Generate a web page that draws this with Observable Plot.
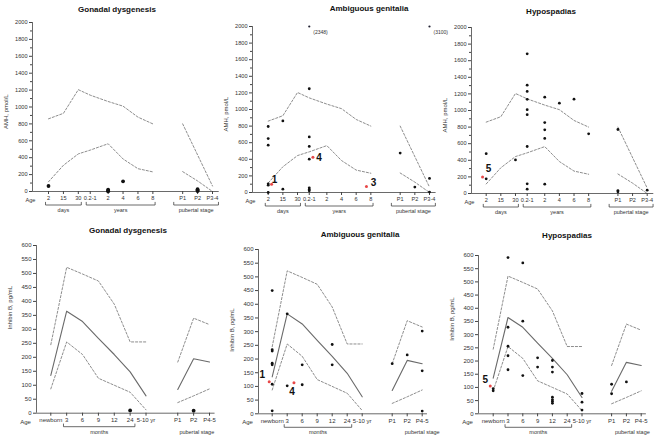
<!DOCTYPE html>
<html><head><meta charset="utf-8">
<script src="https://cdn.jsdelivr.net/npm/d3@7"></script>
<script src="https://cdn.jsdelivr.net/npm/@observablehq/plot@0.6"></script>
<style>
body{margin:0;background:#fff;}
#wrap{position:relative;width:661px;height:437px;overflow:hidden;background:#fff;font-family:"Liberation Sans",Arial,sans-serif;}
.panel{position:absolute;}
.panel svg{max-width:none;overflow:visible;}
.ttl{position:absolute;font-weight:bold;font-size:8px;color:#111;transform:translate(-50%,-50%);white-space:nowrap;}
</style></head><body><div id="wrap"></div>
<script>
// ---------- categories ----------
const amhKeys   = ["2d","15d","30d","0.2-1","2y","4y","6y","8y","P1","P2","P3-4"];
const amhLabels = ["2","15","30","0.2-1","2","4","6","8","P1","P2","P3-4"];
const amhPos    = [0,1,2,2.8,4,5,6,7,9,10,11];
const inhKeys   = ["nb","3","6","9","12","24","5-10","P1","P2","P4-5"];
const inhLabels = ["newborn","3","6","9","12","24","5-10 yr","P1","P2","P4-5"];
const inhPos    = [0,1,2,3,4,5,6,8,9,10];

// ---------- reference ranges ----------
const amhRefKeys = ["2d","15d","30d","0.2-1","2y","4y","6y","8y"];
const amhUpper   = [860,925,1205,1140,1065,1010,880,800];
const amhLower   = [115,310,445,490,565,385,270,232];
const amhPubUpperKeys = ["P1","P3-4"];
const amhPubUpper     = [800,65];
const amhPubLowerKeys = ["P1","P2","P3-4"];
const amhPubLower     = [235,125,0];

const inhRefKeys  = ["nb","3","6","9","12","24","5-10"];
const inhUpper    = [245,522,498,473,390,255,255];
const inhMedian   = [135,365,328,268,210,148,62];
const inhLower    = [87,255,210,125,100,75,12];
const inhPubKeys  = ["P1","P2","P4-5"];
const inhPubUpper = [183,340,317];
const inhPubMedian= [85,195,183];
const inhPubLower = [38,62,87];

// ---------- patients ----------
const gdAmh = [["2d",65],["2y",22],["2y",10],["2y",2],["4y",120],["P2",28],["P2",15],["P2",5]];
const agAmh = [["2d",795],["2d",650],["2d",570],["2d",104],["2d",88],["2d",0],["15d",862],["15d",40],
  ["0.2-1",2348],["0.2-1",1250],["0.2-1",670],["0.2-1",555],["0.2-1",402],["0.2-1",56],["0.2-1",36],["0.2-1",20],
  ["P1",475],["P2",65],["P3-4",3100],["P3-4",170],["P3-4",5]];
const hypAmh = [["2d",480],["2d",177],["30d",405],["0.2-1",1683],["0.2-1",1305],["0.2-1",1230],["0.2-1",1135],
  ["0.2-1",1010],["0.2-1",950],["0.2-1",566],["0.2-1",116],["0.2-1",52],["2y",1160],["2y",855],["2y",767],
  ["2y",663],["2y",112],["4y",1088],["6y",1137],["8y",719],["P1",771],["P1",35],["P1",20],["P3-4",40]];
const gdInh = [["24",10],["P2",9]];
const agInh = [["nb",450],["nb",234],["nb",229],["nb",185],["nb",179],["nb",108],["nb",11],["3",365],["3",102],
  ["6",179],["6",106],["12",253],["12",179],["P1",183],["P2",215],["P4-5",302],["P4-5",157],["P4-5",10]];
const hypInh = [["nb",95],["nb",87],["3",592],["3",328],["3",256],["3",220],["3",167],["6",572],["6",351],["6",145],
  ["9",212],["9",177],["12",202],["12",177],["12",158],["12",63],["12",54],["12",48],["12",40],
  ["5-10",77],["5-10",44],["5-10",14],["P1",112],["P1",76],["P2",121]];

// index cases (red), x = position on the age axis
const agAmhIdx  = [["1",0.23,98],["4",3.05,425],["3",6.7,72]];
const hypAmhIdx = [["5",-0.25,200]];
const agInhIdx  = [["1",-0.2,117],["4",1.45,113]];
const hypInhIdx = [["5",-0.2,105]];

// ---------- layout (positions / styles) ----------
const amhGroups = [["days","2d","30d",-0.2,0.2],["years","0.2-1","8y",-0.27,0.15],["pubertal stage","P1","P3-4",-0.6,0.4]];
const inhGroups = [["months","3","24",-0.2,0.3]];
const labelOff = {"1":[3,-5],"4":[6,1],"3":[7,-4],"5":[6,-8]};
const labelOffInh = {"1":[-7,-7],"4":[-2,9],"5":[-5,-6]};

const panels = [
  {title:"Gonadal dysgenesis", tx:117, ty:9, axisX:32, y0:191, yTop:22, xFirst:48, xLast:212, kind:"amh", pts:gdAmh, idx:[], r:1.9},
  {title:"Ambiguous genitalia", tx:369, ty:8, axisX:252, y0:191.7, yTop:25.7, xFirst:267.7, xLast:429, kind:"amh", pts:agAmh, idx:agAmhIdx, r:1.4},
  {title:"Hypospadias", tx:551, ty:11, axisX:471, y0:192.7, yTop:26.7, xFirst:485.7, xLast:646.7, kind:"amh", pts:hypAmh, idx:hypAmhIdx, r:1.4},
  {title:"Gonadal dysgenesis", tx:128, ty:230, axisX:36, y0:412.7, yTop:245, xFirst:50.3, xLast:209, kind:"inh", pts:gdInh, idx:[], r:1.9, pubX:9.2, ylabDy:0},
  {title:"Ambiguous genitalia", tx:360, ty:234, axisX:258, y0:413.3, yTop:249, xFirst:271.7, xLast:421.7, kind:"inh", pts:agInh, idx:agInhIdx, r:1.4, pubX:10.0, ylabDy:20},
  {title:"Hypospadias", tx:567, ty:235, axisX:478, y0:413.3, yTop:255, xFirst:492.7, xLast:640.7, kind:"inh", pts:hypInh, idx:hypInhIdx, r:1.4, pubX:9.4, ylabDy:6}
];

const wrap = document.getElementById("wrap");
const dashed = {stroke:"#808080", strokeWidth:0.9, strokeDasharray:"2.2,1.8"};
const solid = {stroke:"#6a6a6a", strokeWidth:1.1};

function build(p) {
  const amh = p.kind === "amh";
  const keys = amh ? amhKeys : inhKeys, labels = amh ? amhLabels : inhLabels, posArr = amh ? amhPos : inhPos;
  const X = k => posArr[keys.indexOf(k)];
  const nLast = posArr[posArr.length - 1];
  const k = (p.xLast - p.xFirst) / nLast;
  const d0 = -(p.xFirst - p.axisX) / k;
  const d1 = nLast + (amh ? 0.45 : 0.35);
  const yMax = amh ? 2000 : 600;
  const mL = 32, mT = 8;
  const width = Math.ceil(mL + (d1 - d0) * k + 18);
  const mR = width - mL - (d1 - d0) * k;
  const plotH = p.y0 - p.yTop;
  const height = Math.ceil(mT + plotH + 26);
  const mB = height - mT - plotH;
  const ppu = plotH / yMax;
  const yv = px => -px / ppu; // pixel offset below baseline -> data units
  const fs = amh ? 5.6 : 6;

  const marks = [];
  const ln = (ks, vs, st) => Plot.line(ks.map((kk, i) => ({x: X(kk), y: vs[i]})), {x: "x", y: "y", ...st});
  if (amh) {
    marks.push(ln(amhRefKeys, amhUpper, dashed), ln(amhRefKeys, amhLower, dashed),
               ln(amhPubUpperKeys, amhPubUpper, dashed), ln(amhPubLowerKeys, amhPubLower, dashed));
  } else {
    marks.push(ln(inhRefKeys, inhUpper, dashed), ln(inhRefKeys, inhMedian, solid), ln(inhRefKeys, inhLower, dashed),
               ln(inhPubKeys, inhPubUpper, dashed), ln(inhPubKeys, inhPubMedian, solid), ln(inhPubKeys, inhPubLower, dashed));
  }
  marks.push(Plot.ruleY([0], {stroke: "#444", strokeWidth: 0.8}));
  marks.push(Plot.ruleX([d0], {y1: 0, y2: yMax, stroke: "#444", strokeWidth: 0.8}));
  marks.push(Plot.axisY({ticks: d3.range(0, yMax + 1, amh ? 200 : 50), tickFormat: d => String(d), tickSize: 3, tickPadding: 2, label: null, fontSize: fs, stroke: "#444", fill: "#333"}));
  if (amh) marks.push(Plot.axisY({ticks: d3.range(100, yMax, 200), tickSize: 2, tickFormat: () => "", label: null, stroke: "#444"}));
  marks.push(Plot.axisX({ticks: posArr, tickFormat: v => labels[posArr.indexOf(v)], tickSize: 3, tickPadding: 2, label: null, fontSize: fs, stroke: "#444", fill: "#333"}));
  marks.push(Plot.text(["Age"], {x: d0, y: 0, dx: amh ? -2 : -11, dy: 8.5, fontSize: fs, fill: "#333"}));
  marks.push(Plot.text([amh ? "AMH, pmol/L" : "Inhibin B, pg/mL"], {frameAnchor: "left", rotate: -90, dx: -26, dy: amh ? 22 : p.ylabDy, fontSize: 6, fill: "#333"}));
  const groups = amh ? amhGroups : inhGroups;
  for (const [lab, a, b, pa, pb] of groups) {
    const xa = X(a) + pa, xb = X(b) + pb;
    marks.push(Plot.line([[xa, yv(10.8)], [xa, yv(13.5)], [xb, yv(13.5)], [xb, yv(10.8)]], {stroke: "#444", strokeWidth: 0.8}));
    marks.push(Plot.text([lab], {x: (xa + xb) / 2, y: yv(18.6), fontSize: 5.5, fill: "#333"}));
  }
  if (!amh) marks.push(Plot.text(["pubertal stage"], {x: p.pubX, y: yv(18.6), fontSize: 5.5, fill: "#333"}));
  const pts = p.pts.map(([kk, v]) => ({x: X(kk), v, y: Math.min(v, yMax)}));
  marks.push(Plot.dot(pts.filter(d => d.v <= yMax), {x: "x", y: "y", r: p.r, fill: "#111", stroke: "none"}));
  const over = pts.filter(d => d.v > yMax);
  if (over.length) {
    marks.push(Plot.dot(over, {x: "x", y: "y", r: 1.1, fill: "#223", stroke: "none"}));
    marks.push(Plot.text(over, {x: "x", y: "y", text: d => `(${d.v})`, textAnchor: "start", dx: 4, dy: 6, fontSize: 5, fill: "#333"}));
  }
  const offs = amh ? labelOff : labelOffInh;
  for (const [n, xp, v] of p.idx) {
    marks.push(Plot.dot([{x: xp, y: v}], {x: "x", y: "y", r: 1.5, fill: "#e84848", stroke: "none"}));
    marks.push(Plot.text([{x: xp, y: v, n}], {x: "x", y: "y", text: "n", dx: offs[n][0], dy: offs[n][1], fontSize: 10, fontWeight: "bold", fill: "#111"}));
  }

  const svg = Plot.plot({
    width, height, marginLeft: mL, marginRight: mR, marginTop: mT, marginBottom: mB,
    x: {type: "linear", domain: [d0, d1]},
    y: {type: "linear", domain: [0, yMax]},
    style: {fontFamily: '"Liberation Sans", Arial, sans-serif', fontSize: fs + "px", color: "#333", background: "transparent", overflow: "visible"},
    marks
  });
  const div = document.createElement("div");
  div.className = "panel";
  div.style.left = (p.axisX - mL) + "px";
  div.style.top = (p.yTop - mT) + "px";
  div.appendChild(svg);
  wrap.appendChild(div);
  const t = document.createElement("div");
  t.className = "ttl";
  t.style.left = p.tx + "px";
  t.style.top = p.ty + "px";
  t.textContent = p.title;
  wrap.appendChild(t);
}
panels.forEach(build);
</script></body></html>
